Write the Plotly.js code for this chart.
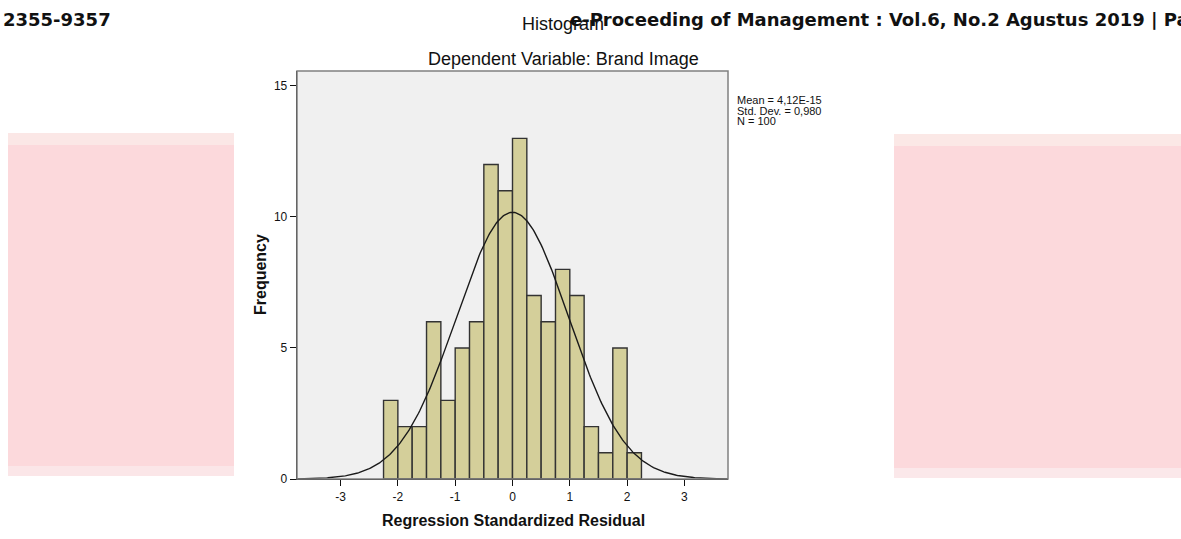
<!DOCTYPE html>
<html>
<head>
<meta charset="utf-8">
<script src="https://cdn.plot.ly/plotly-3.0.1.min.js"></script>
<style>
html,body{margin:0;padding:0;background:#ffffff;}
#chart{width:1181px;height:539px;}
</style>
</head>
<body>
<div id="chart"></div>
<script>
// ---- data ----
var binLowerEdges = [-2.25,-2.0,-1.75,-1.5,-1.25,-1.0,-0.75,-0.5,-0.25,0.0,0.25,0.5,0.75,1.0,1.25,1.5,1.75,2.0];
var binCounts     = [3,2,2,6,3,5,6,12,11,13,7,6,8,7,2,1,5,1];
var binWidth = 0.25;
var statMean = 4.12e-15;
var statStdDev = 0.980;
var statN = 100;
var xTickVals = [-3,-2,-1,0,1,2,3];
var xTickText = ["-3","-2","-1","0","1","2","3"];
var yTickVals = [0,5,10,15];
var yTickText = ["0","5","10","15"];
var statLines = ["Mean = 4,12E-15","Std. Dev. = 0,980","N = 100"];

// fitted normal curve (as SPSS draws it from mean, std. dev. and N)
var xMin = -3.76, xMax = 3.76;
var curveX = [], curveY = [];
for (var i = 0; i <= 376; i++) {
  var x = xMin + (xMax - xMin) * i / 376;
  var z = (x - statMean) / statStdDev;
  curveX.push(x);
  curveY.push(statN * binWidth * Math.exp(-0.5 * z * z) / (statStdDev * Math.sqrt(2 * Math.PI)));
}

var bars = {
  type: 'bar',
  x: binLowerEdges,
  y: binCounts,
  width: binWidth,
  offset: 0,
  marker: {color: '#d4cf9a', line: {color: '#333333', width: 1.4}},
  hoverinfo: 'x+y'
};
var curve = {
  type: 'scatter',
  mode: 'lines',
  x: curveX,
  y: curveY,
  line: {color: '#1a1a1a', width: 1.4},
  hoverinfo: 'skip'
};

// pixel -> paper helpers (plot area 297..728 x 71..479)
var L = 297, R = 728, T = 71, B = 479;
function px(v){ return (v - L) / (R - L); }
function py(v){ return (B - v) / (B - T); }

var chartFont = 'Liberation Sans, Arial, sans-serif';
var annotations = [
  {text: '2355-9357', x: px(113), y: py(19), xref: 'paper', yref: 'paper', xanchor: 'right', yanchor: 'middle', showarrow: false,
   font: {family: 'DejaVu Sans', size: 18, color: '#111', weight: 'bold'}},
  {text: 'Histogram', x: px(563), y: py(24), xref: 'paper', yref: 'paper', xanchor: 'center', yanchor: 'middle', showarrow: false,
   font: {family: chartFont, size: 18, color: '#111'}},
  {text: 'e-Proceeding of Management : Vol.6, No.2 Agustus 2019 | Page', x: px(568), y: py(19), xref: 'paper', yref: 'paper', xanchor: 'left', yanchor: 'middle', showarrow: false,
   font: {family: 'DejaVu Sans', size: 18, color: '#111', weight: 'bold'}},
  {text: 'Dependent Variable: Brand Image', x: px(563), y: py(59), xref: 'paper', yref: 'paper', xanchor: 'center', yanchor: 'middle', showarrow: false,
   font: {family: chartFont, size: 18, color: '#111'}},
  {text: 'Frequency', x: px(260), y: 0.5, xref: 'paper', yref: 'paper', xanchor: 'center', yanchor: 'middle', textangle: -90, showarrow: false,
   font: {family: chartFont, size: 16, color: '#111', weight: 'bold'}},
  {text: 'Regression Standardized Residual', x: px(513), y: py(520), xref: 'paper', yref: 'paper', xanchor: 'center', yanchor: 'middle', showarrow: false,
   font: {family: chartFont, size: 16, color: '#111', weight: 'bold'}}
];
for (var k = 0; k < statLines.length; k++) {
  annotations.push({text: statLines[k], x: px(735), y: py(100 + 10.5 * k), xref: 'paper', yref: 'paper', xanchor: 'left', yanchor: 'middle', showarrow: false,
    font: {family: chartFont, size: 11, color: '#111'}});
}

var shapes = [
  // pink blurred panels of the page behind
  {type: 'rect', xref: 'paper', yref: 'paper', x0: px(8), x1: px(234), y0: py(476), y1: py(133), fillcolor: '#fcd9dc', line: {width: 0}, layer: 'below'},
  {type: 'rect', xref: 'paper', yref: 'paper', x0: px(8), x1: px(234), y0: py(145), y1: py(133), fillcolor: '#fbe7e6', line: {width: 0}, layer: 'below'},
  {type: 'rect', xref: 'paper', yref: 'paper', x0: px(8), x1: px(234), y0: py(476), y1: py(466), fillcolor: '#fbe6e8', line: {width: 0}, layer: 'below'},
  {type: 'rect', xref: 'paper', yref: 'paper', x0: px(894), x1: px(1181), y0: py(478), y1: py(134), fillcolor: '#fcd9dc', line: {width: 0}, layer: 'below'},
  {type: 'rect', xref: 'paper', yref: 'paper', x0: px(894), x1: px(1181), y0: py(146), y1: py(134), fillcolor: '#fbe8e6', line: {width: 0}, layer: 'below'},
  {type: 'rect', xref: 'paper', yref: 'paper', x0: px(894), x1: px(1181), y0: py(478), y1: py(468), fillcolor: '#fbe8ea', line: {width: 0}, layer: 'below'},
  // gray frame (top/right)
  {type: 'rect', xref: 'paper', yref: 'paper', x0: 0, x1: 1, y0: 0, y1: 1, line: {color: '#808080', width: 1.5}, layer: 'above'}
];

var layout = {
  width: 1181, height: 539,
  margin: {l: L, r: 1181 - R, t: T, b: 539 - B, pad: 0},
  paper_bgcolor: 'rgba(0,0,0,0)',
  plot_bgcolor: '#f0f0f0',
  showlegend: false,
  bargap: 0,
  font: {family: chartFont, color: '#111'},
  xaxis: {range: [xMin, xMax], tickvals: xTickVals, ticktext: xTickText, ticks: 'outside', ticklen: 6, tickcolor: '#111', tickwidth: 1,
          showgrid: false, zeroline: false, showline: true, linecolor: '#111', linewidth: 1.3, tickfont: {size: 12, color: '#111'}, fixedrange: true},
  yaxis: {range: [0, 15.57], tickvals: yTickVals, ticktext: yTickText, ticks: 'outside', ticklen: 6, tickcolor: '#111', tickwidth: 1,
          showgrid: false, zeroline: false, showline: true, linecolor: '#111', linewidth: 1.3, tickfont: {size: 12, color: '#111'}, fixedrange: true},
  annotations: annotations,
  shapes: shapes
};

Plotly.newPlot('chart', [bars, curve], layout, {displayModeBar: false, staticPlot: true});
</script>
</body>
</html>
